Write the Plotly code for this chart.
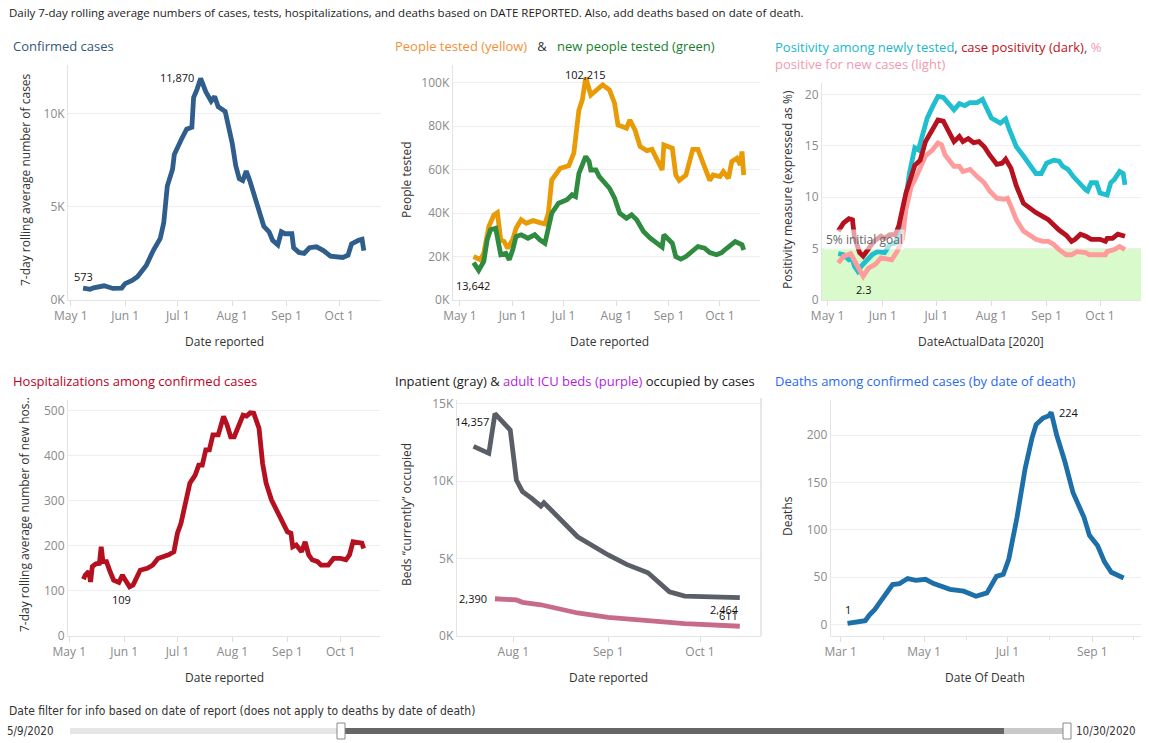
import plotly.graph_objects as go

W, H = 1149, 743


def px(x):
    return x / W


def py(y):
    return 1 - y / H


FONT = "Open Sans, Noto Sans, sans-serif"
NARROW = "Liberation Sans Narrow, DejaVu Sans Condensed, Arial Narrow, sans-serif"

# ---------------- data ----------------
CASES = [
    ("2020-05-08", 640), ("2020-05-10", 590), ("2020-05-12", 573), ("2020-05-14", 650),
    ("2020-05-16", 700), ("2020-05-20", 760), ("2020-05-25", 620), ("2020-05-30", 640),
    ("2020-06-01", 880), ("2020-06-05", 1050), ("2020-06-08", 1250), ("2020-06-13", 1850),
    ("2020-06-17", 2650), ("2020-06-21", 3300), ("2020-06-23", 4150), ("2020-06-25", 6100),
    ("2020-06-28", 7000), ("2020-06-29", 7800), ("2020-07-03", 8600), ("2020-07-06", 9150),
    ("2020-07-09", 9250), ("2020-07-10", 10850), ("2020-07-12", 11300), ("2020-07-14", 11870),
    ("2020-07-17", 11150), ("2020-07-20", 10650), ("2020-07-22", 10900), ("2020-07-24", 10350),
    ("2020-07-28", 10100), ("2020-07-30", 9300), ("2020-08-01", 8400), ("2020-08-03", 7200),
    ("2020-08-05", 6500), ("2020-08-07", 6400), ("2020-08-09", 6900), ("2020-08-11", 6400),
    ("2020-08-13", 5800), ("2020-08-15", 5300), ("2020-08-17", 4550), ("2020-08-19", 3950),
    ("2020-08-22", 3650), ("2020-08-24", 3200), ("2020-08-27", 2950), ("2020-08-29", 3650),
    ("2020-08-31", 3550), ("2020-09-04", 3550), ("2020-09-05", 2800), ("2020-09-08", 2550),
    ("2020-09-11", 2500), ("2020-09-14", 2800), ("2020-09-18", 2850), ("2020-09-22", 2650),
    ("2020-09-26", 2350), ("2020-09-29", 2320), ("2020-10-03", 2280), ("2020-10-06", 2400),
    ("2020-10-08", 3000), ("2020-10-12", 3200), ("2020-10-14", 3250), ("2020-10-15", 2650),
]

PEOPLE_TESTED = [
    ("2020-05-09", 20000), ("2020-05-13", 18500), ("2020-05-15", 21500), ("2020-05-18", 33800),
    ("2020-05-21", 39200), ("2020-05-23", 40200), ("2020-05-25", 27700), ("2020-05-27", 26900),
    ("2020-05-29", 23800), ("2020-06-01", 27700), ("2020-06-03", 33000), ("2020-06-06", 36900),
    ("2020-06-09", 35300), ("2020-06-13", 36500), ("2020-06-17", 35600), ("2020-06-20", 35000),
    ("2020-06-22", 39900), ("2020-06-24", 55200), ("2020-06-29", 60600), ("2020-07-04", 61700),
    ("2020-07-07", 67500), ("2020-07-10", 87400), ("2020-07-12", 92000), ("2020-07-14", 102215),
    ("2020-07-17", 94300), ("2020-07-21", 96600), ("2020-07-24", 99000), ("2020-07-28", 96600),
    ("2020-07-31", 90500), ("2020-08-02", 80500), ("2020-08-07", 79000), ("2020-08-09", 82800),
    ("2020-08-12", 78200), ("2020-08-15", 70600), ("2020-08-19", 68700), ("2020-08-22", 69300),
    ("2020-08-25", 64400), ("2020-08-28", 59800), ("2020-08-29", 71300), ("2020-09-03", 69800),
    ("2020-09-05", 57500), ("2020-09-07", 55000), ("2020-09-11", 57500), ("2020-09-15", 69300),
    ("2020-09-18", 69300), ("2020-09-22", 61400), ("2020-09-25", 55000), ("2020-09-27", 57500),
    ("2020-10-01", 56800), ("2020-10-03", 59100), ("2020-10-06", 56000), ("2020-10-08", 63700),
    ("2020-10-11", 65200), ("2020-10-13", 62100), ("2020-10-14", 68300), ("2020-10-15", 57500),
]

NEW_PEOPLE_TESTED = [
    ("2020-05-09", 17200), ("2020-05-12", 13642), ("2020-05-15", 17700), ("2020-05-17", 27700),
    ("2020-05-19", 32300), ("2020-05-22", 33000), ("2020-05-25", 20800), ("2020-05-28", 21500),
    ("2020-05-30", 18500), ("2020-06-01", 23000), ("2020-06-03", 29200), ("2020-06-06", 30000),
    ("2020-06-10", 28400), ("2020-06-14", 30000), ("2020-06-17", 27700), ("2020-06-20", 26100),
    ("2020-06-24", 39900), ("2020-06-28", 44500), ("2020-07-03", 46100), ("2020-07-06", 48400),
    ("2020-07-08", 47600), ("2020-07-10", 58300), ("2020-07-14", 66000), ("2020-07-16", 63700),
    ("2020-07-17", 59800), ("2020-07-20", 59800), ("2020-07-22", 56800), ("2020-07-24", 55200),
    ("2020-07-28", 51400), ("2020-07-31", 46800), ("2020-08-03", 39900), ("2020-08-07", 37600),
    ("2020-08-10", 39200), ("2020-08-13", 36900), ("2020-08-17", 31500), ("2020-08-21", 28400),
    ("2020-08-25", 26100), ("2020-08-28", 24300), ("2020-08-29", 30000), ("2020-09-01", 27700),
    ("2020-09-03", 26100), ("2020-09-05", 20000), ("2020-09-08", 18800), ("2020-09-11", 20000),
    ("2020-09-15", 23000), ("2020-09-18", 24600), ("2020-09-22", 23800), ("2020-09-25", 21800),
    ("2020-09-29", 20800), ("2020-10-02", 21800), ("2020-10-05", 23800), ("2020-10-10", 26900),
    ("2020-10-14", 25400), ("2020-10-15", 23000),
]

POS_NEWLY_TESTED = [
    ("2020-05-07", 4.5), ("2020-05-10", 4.4), ("2020-05-13", 3.9), ("2020-05-15", 4.0),
    ("2020-05-16", 3.3), ("2020-05-18", 2.8), ("2020-05-20", 3.3), ("2020-05-23", 3.9),
    ("2020-05-26", 4.4), ("2020-05-29", 4.7), ("2020-05-31", 4.7), ("2020-06-02", 4.6),
    ("2020-06-05", 5.4), ("2020-06-08", 5.55), ("2020-06-10", 6.2), ("2020-06-13", 8.8),
    ("2020-06-16", 12.35), ("2020-06-19", 14.8), ("2020-06-21", 14.6), ("2020-06-24", 16.4),
    ("2020-06-26", 17.7), ("2020-06-29", 18.8), ("2020-07-02", 19.8), ("2020-07-05", 19.7),
    ("2020-07-08", 19.1), ("2020-07-11", 18.5), ("2020-07-14", 19.1), ("2020-07-17", 18.9),
    ("2020-07-20", 19.2), ("2020-07-24", 19.2), ("2020-07-27", 19.5), ("2020-07-29", 18.8),
    ("2020-08-01", 17.7), ("2020-08-06", 17.2), ("2020-08-09", 17.6), ("2020-08-11", 16.6),
    ("2020-08-15", 14.9), ("2020-08-19", 14.0), ("2020-08-23", 13.0), ("2020-08-26", 12.3),
    ("2020-08-29", 12.3), ("2020-09-01", 13.3), ("2020-09-05", 13.6), ("2020-09-08", 13.5),
    ("2020-09-10", 13.0), ("2020-09-13", 12.7), ("2020-09-16", 12.0), ("2020-09-20", 11.2),
    ("2020-09-23", 10.7), ("2020-09-24", 10.6), ("2020-09-26", 11.4), ("2020-09-29", 11.4),
    ("2020-10-01", 10.4), ("2020-10-05", 10.2), ("2020-10-07", 11.4), ("2020-10-09", 11.7),
    ("2020-10-12", 12.5), ("2020-10-14", 12.3), ("2020-10-15", 11.2),
]

CASE_POSITIVITY = [
    ("2020-05-07", 6.7), ("2020-05-10", 7.5), ("2020-05-13", 7.9), ("2020-05-15", 7.8),
    ("2020-05-16", 6.2), ("2020-05-19", 4.6), ("2020-05-21", 4.26), ("2020-05-24", 5.06),
    ("2020-05-27", 5.7), ("2020-05-31", 6.2), ("2020-06-02", 6.0), ("2020-06-05", 6.36),
    ("2020-06-08", 6.36), ("2020-06-10", 7.2), ("2020-06-14", 10.4), ("2020-06-17", 12.0),
    ("2020-06-19", 13.1), ("2020-06-22", 13.6), ("2020-06-25", 15.4), ("2020-06-29", 16.6),
    ("2020-07-02", 17.5), ("2020-07-05", 17.4), ("2020-07-08", 16.4), ("2020-07-11", 15.4),
    ("2020-07-14", 15.9), ("2020-07-16", 15.4), ("2020-07-19", 15.7), ("2020-07-22", 15.3),
    ("2020-07-25", 15.4), ("2020-07-28", 14.9), ("2020-07-31", 14.1), ("2020-08-04", 13.2),
    ("2020-08-07", 13.3), ("2020-08-09", 13.7), ("2020-08-12", 12.8), ("2020-08-15", 11.1),
    ("2020-08-19", 9.4), ("2020-08-23", 8.8), ("2020-08-26", 8.5), ("2020-08-30", 8.1),
    ("2020-09-02", 7.8), ("2020-09-05", 7.3), ("2020-09-08", 6.8), ("2020-09-12", 6.3),
    ("2020-09-15", 5.7), ("2020-09-17", 5.9), ("2020-09-20", 6.4), ("2020-09-23", 6.2),
    ("2020-09-26", 5.9), ("2020-10-01", 5.9), ("2020-10-04", 5.7), ("2020-10-05", 6.0),
    ("2020-10-08", 6.0), ("2020-10-11", 6.4), ("2020-10-15", 6.2),
]

POS_NEW_CASES = [
    ("2020-05-07", 3.6), ("2020-05-10", 4.26), ("2020-05-14", 4.5), ("2020-05-16", 3.9),
    ("2020-05-19", 2.96), ("2020-05-21", 2.3), ("2020-05-24", 3.1), ("2020-05-28", 3.5),
    ("2020-05-31", 4.1), ("2020-06-04", 4.0), ("2020-06-06", 3.9), ("2020-06-09", 4.7),
    ("2020-06-12", 5.9), ("2020-06-14", 8.8), ("2020-06-17", 11.05), ("2020-06-19", 11.7),
    ("2020-06-22", 13.0), ("2020-06-25", 14.0), ("2020-06-29", 14.6), ("2020-07-02", 15.26),
    ("2020-07-04", 15.1), ("2020-07-06", 14.1), ("2020-07-11", 13.0), ("2020-07-14", 13.0),
    ("2020-07-16", 12.5), ("2020-07-20", 12.7), ("2020-07-24", 12.0), ("2020-07-28", 11.4),
    ("2020-07-31", 10.6), ("2020-08-04", 9.9), ("2020-08-08", 9.8), ("2020-08-10", 9.9),
    ("2020-08-12", 9.1), ("2020-08-15", 7.8), ("2020-08-19", 6.7), ("2020-08-23", 6.2),
    ("2020-08-26", 5.9), ("2020-08-30", 5.7), ("2020-09-02", 5.7), ("2020-09-05", 5.4),
    ("2020-09-08", 4.9), ("2020-09-12", 4.4), ("2020-09-15", 4.4), ("2020-09-18", 4.7),
    ("2020-09-23", 4.6), ("2020-09-25", 4.4), ("2020-10-01", 4.4), ("2020-10-04", 4.4),
    ("2020-10-05", 4.7), ("2020-10-09", 4.9), ("2020-10-12", 5.2), ("2020-10-15", 4.9),
]
GOAL_PCT = 5

HOSPITALIZATIONS = [
    ("2020-05-09", 126), ("2020-05-10", 135), ("2020-05-12", 143), ("2020-05-13", 120),
    ("2020-05-14", 154), ("2020-05-16", 160), ("2020-05-18", 161), ("2020-05-19", 198),
    ("2020-05-20", 165), ("2020-05-22", 165), ("2020-05-24", 143), ("2020-05-26", 124),
    ("2020-05-29", 119), ("2020-05-31", 135), ("2020-06-01", 128), ("2020-06-04", 109),
    ("2020-06-06", 113), ("2020-06-08", 132), ("2020-06-10", 146), ("2020-06-14", 150),
    ("2020-06-17", 157), ("2020-06-20", 172), ("2020-06-23", 176), ("2020-06-26", 180),
    ("2020-06-29", 187), ("2020-07-01", 228), ("2020-07-03", 250), ("2020-07-05", 287),
    ("2020-07-08", 339), ("2020-07-11", 357), ("2020-07-13", 379), ("2020-07-15", 379),
    ("2020-07-17", 413), ("2020-07-19", 413), ("2020-07-21", 446), ("2020-07-24", 446),
    ("2020-07-27", 487), ("2020-07-29", 468), ("2020-07-31", 442), ("2020-08-02", 442),
    ("2020-08-04", 461), ("2020-08-07", 490), ("2020-08-09", 488), ("2020-08-11", 495),
    ("2020-08-13", 494), ("2020-08-16", 461), ("2020-08-18", 383), ("2020-08-20", 339),
    ("2020-08-23", 302), ("2020-08-26", 279), ("2020-08-30", 246), ("2020-09-01", 231),
    ("2020-09-03", 228), ("2020-09-04", 198), ("2020-09-06", 202), ("2020-09-09", 187),
    ("2020-09-11", 209), ("2020-09-13", 180), ("2020-09-15", 169), ("2020-09-18", 165),
    ("2020-09-20", 157), ("2020-09-24", 157), ("2020-09-27", 172), ("2020-10-01", 172),
    ("2020-10-04", 169), ("2020-10-06", 180), ("2020-10-08", 209), ("2020-10-10", 207),
    ("2020-10-13", 206), ("2020-10-14", 194),
]

INPATIENT_BEDS = [
    ("2020-07-19", 12240), ("2020-07-24", 11790), ("2020-07-26", 14357), ("2020-07-31", 13300),
    ("2020-08-02", 10060), ("2020-08-04", 9310), ("2020-08-07", 8880), ("2020-08-10", 8380),
    ("2020-08-11", 8600), ("2020-08-22", 6400), ("2020-09-01", 5220), ("2020-09-07", 4610),
    ("2020-09-14", 4070), ("2020-09-21", 2840), ("2020-09-26", 2560), ("2020-10-07", 2500),
    ("2020-10-14", 2464),
]

ICU_BEDS = [
    ("2020-07-26", 2390), ("2020-08-02", 2310), ("2020-08-04", 2160), ("2020-08-10", 2000),
    ("2020-08-22", 1470), ("2020-09-01", 1180), ("2020-09-13", 990), ("2020-09-26", 780),
    ("2020-10-14", 611),
]

DEATHS = [
    ("2020-03-06", 1), ("2020-03-10", 2), ("2020-03-15", 2.4), ("2020-03-19", 3.8),
    ("2020-03-22", 9.8), ("2020-03-26", 15.7), ("2020-03-29", 22), ("2020-04-02", 29),
    ("2020-04-05", 36), ("2020-04-08", 42), ("2020-04-13", 43), ("2020-04-17", 46.5),
    ("2020-04-19", 48.3), ("2020-04-25", 46.5), ("2020-05-02", 47.6), ("2020-05-08", 43),
    ("2020-05-14", 39.5), ("2020-05-20", 37), ("2020-05-30", 35), ("2020-06-08", 29.7),
    ("2020-06-16", 33.2), ("2020-06-23", 50.7), ("2020-06-28", 52.8), ("2020-07-02", 69),
    ("2020-07-08", 113), ("2020-07-14", 165), ("2020-07-19", 197), ("2020-07-22", 211),
    ("2020-07-27", 218), ("2020-07-31", 220), ("2020-08-02", 224), ("2020-08-06", 200),
    ("2020-08-12", 172), ("2020-08-18", 139), ("2020-08-26", 113), ("2020-08-30", 94),
    ("2020-09-05", 83), ("2020-09-10", 66), ("2020-09-15", 55), ("2020-09-24", 49),
]

K_TICKS_CASES = [0, 5000, 10000]
K_TICKS_TESTS = [0, 20000, 40000, 60000, 80000, 100000]
PCT_TICKS = [0, 5, 10, 15, 20]
HOSP_TICKS = [0, 100, 200, 300, 400, 500]
BED_TICKS = [0, 5000, 10000, 15000]
DEATH_TICKS = [0, 50, 100, 150, 200]

FILTER_START = "5/9/2020"
FILTER_END = "10/30/2020"

# ---------------- colours ----------------
C_CASES = "#2f5d8c"
C_YELLOW = "#e89b06"
C_GREEN = "#2e8b3f"
C_CYAN = "#1fbfcf"
C_DARKRED = "#b5111e"
C_PINK = "#ff9b9b"
C_HOSP = "#b5101f"
C_GRAY = "#5a5e66"
C_PURPLE = "#c86a8b"
C_DEATHS = "#1c6fa8"

TICK_FONT = dict(family=FONT, size=12, color="#8a8a8a")
AX_LINE = "#e4e4e4"
GRID = "#eeeeee"

fig = go.Figure()


def add_series(pairs, color, n, width=4.8):
    xs = [d for d, _ in pairs]
    ys = [v for _, v in pairs]
    fig.add_trace(go.Scatter(
        x=xs, y=ys, mode="lines",
        line=dict(color=color, width=width),
        xaxis="x" if n == 1 else f"x{n}", yaxis="y" if n == 1 else f"y{n}",
        hoverinfo="skip", showlegend=False,
    ))


add_series(CASES, C_CASES, 1)
add_series(PEOPLE_TESTED, C_YELLOW, 2)
add_series(NEW_PEOPLE_TESTED, C_GREEN, 2)
add_series(POS_NEWLY_TESTED, C_CYAN, 3)
add_series(POS_NEW_CASES, C_PINK, 3)
add_series(CASE_POSITIVITY, C_DARKRED, 3)
add_series(HOSPITALIZATIONS, C_HOSP, 4)
add_series(INPATIENT_BEDS, C_GRAY, 5)
add_series(ICU_BEDS, C_PURPLE, 5)
add_series(DEATHS, C_DEATHS, 6)


def xaxis(xd, rng, anchor, dtick="M1", tick0="2020-05-01"):
    return dict(
        domain=[px(xd[0]), px(xd[1])], range=rng, type="date", anchor=anchor,
        showgrid=False, showline=True, linecolor=AX_LINE, linewidth=1,
        ticks="outside", ticklen=5, tickcolor="#dddddd",
        tickformat="%b %-d", dtick=dtick, tick0=tick0,
        tickfont=TICK_FONT, zeroline=False, fixedrange=True, automargin=False,
    )


def yaxis(yd, rng, anchor, vals, text=None):
    d = dict(
        domain=[py(yd[1]), py(yd[0])], range=rng, anchor=anchor,
        showgrid=True, gridcolor=GRID, gridwidth=1,
        showline=True, linecolor=AX_LINE, linewidth=1,
        ticks="", tickvals=vals, tickfont=TICK_FONT,
        zeroline=False, fixedrange=True, automargin=False,
    )
    if text is not None:
        d["ticktext"] = text
    return d


def ktext(vals):
    return [f"{int(v / 1000)}K" for v in vals]


layout = dict(
    width=W, height=H, autosize=False,
    margin=dict(l=0, r=0, t=0, b=0, pad=0, autoexpand=False),
    paper_bgcolor="white", plot_bgcolor="white",
    font=dict(family=FONT, color="#333333"),
    showlegend=False,
)
layout["xaxis"] = xaxis((68, 381), ["2020-04-29 10:00", "2020-10-24 19:00"], "y")
layout["yaxis"] = yaxis((65, 300), [0, 12590], "x", K_TICKS_CASES, ktext(K_TICKS_CASES))
layout["xaxis2"] = xaxis((452.7, 760), ["2020-04-26 17:00", "2020-10-24 14:00"], "y2")
layout["yaxis2"] = yaxis((65, 300), [0, 108100], "x2", K_TICKS_TESTS, ktext(K_TICKS_TESTS))
layout["xaxis3"] = xaxis((822, 1141), ["2020-04-27 21:00", "2020-10-24 00:00"], "y3")
layout["yaxis3"] = yaxis((83.3, 300), [0, 21.07], "x3", PCT_TICKS)
layout["xaxis4"] = xaxis((68, 380), ["2020-04-30 07:00", "2020-10-23 05:00"], "y4")
layout["yaxis4"] = yaxis((400, 636), [0, 523.5], "x4", HOSP_TICKS)
layout["xaxis5"] = xaxis((456.7, 761), ["2020-07-13 12:00", "2020-10-20 22:00"], "y5",
                         tick0="2020-08-01")
layout["yaxis5"] = yaxis((400, 635.7), [0, 15240], "x5", BED_TICKS, ktext(BED_TICKS))
layout["xaxis6"] = xaxis((830.7, 1141), ["2020-02-22 17:00", "2020-10-06 17:00"], "y6",
                         dtick="M2", tick0="2020-03-01")
layout["xaxis6"]["minor"] = dict(ticks="outside", ticklen=3, dtick="M1", tickcolor="#e2e2e2")
layout["yaxis6"] = yaxis((400, 635.7), [-12, 237], "x6", DEATH_TICKS)

fig.update_layout(**layout)

ann = []
shapes = []


def text(x, y, s, size=13, color="#333333", anchor="left", family=FONT, angle=0, **kw):
    ann.append(dict(
        xref="paper", yref="paper", x=px(x), y=py(y), text=s, showarrow=False,
        xanchor=anchor, yanchor="middle", textangle=angle,
        font=dict(family=family, size=size, color=color), **kw,
    ))


def span(s, c):
    return f'<span style="color:{c}">{s}</span>'


# main title
text(7, 12, "Daily 7-day rolling average numbers of cases, tests, hospitalizations, and deaths "
     "based on DATE REPORTED. Also, add deaths based on date of death.", size=11.5, color="#1a1a1a")

# panel titles
text(11, 46, "Confirmed cases", size=13, color="#34577a")
text(393, 46, span("People tested (yellow)", "#f0913a") + "&nbsp;&nbsp;&nbsp;" + span("&amp;", "#333333")
     + "&nbsp;&nbsp;&nbsp;" + span("new people tested (green)", "#17802f"), size=13)
text(773, 55, span("Positivity among newly tested", "#1ab7c7") + span(",", "#555555") + " "
     + span("case positivity (dark)", "#c0111a") + span(",", "#555555") + " " + span("%", "#f29ab0")
     + "<br>" + span("positive for new cases (light)", "#f29ab0"), size=13, align="left")
text(11, 381, "Hospitalizations among confirmed cases", size=13, color="#c0001e")
text(393, 381, "Inpatient (gray) &amp; " + span("adult ICU beds (purple)", "#b41de0")
     + " occupied by cases", size=13, color="#1a1a1a")
text(773, 381, "Deaths among confirmed cases (by date of death)", size=13, color="#2a68f0")

# axis titles
AX_T = dict(size=12, color="#333333", anchor="center")
text(25, 180, "7-day rolling average number of cases", angle=-90, **AX_T)
text(224, 342, "Date reported", **AX_T)
text(406, 180, "People tested", angle=-90, **AX_T)
text(609, 342, "Date reported", **AX_T)
text(787, 190, "Positivity measure (expressed as %)", angle=-90, **AX_T)
text(981, 342, "DateActualData [2020]", **AX_T)
text(24, 515, "7-day rolling average number of new hos..", angle=-90, **AX_T)
text(224, 677, "Date reported", **AX_T)
text(406, 515, "Beds \u201ccurrently\u201d occupied", angle=-90, **AX_T)
text(608, 677, "Date reported", **AX_T)
text(787, 516, "Deaths", angle=-90, **AX_T)
text(985, 677, "Date Of Death", **AX_T)

# goal band and label
shapes.append(dict(type="rect", xref="x3 domain", yref="y3", x0=0, x1=1, y0=0, y1=GOAL_PCT,
                   fillcolor="#d9fbcc", line=dict(width=0), layer="below"))
ann.append(dict(xref="x3 domain", yref="y3", x=0.005, y=GOAL_PCT, yshift=9, text="5% initial goal",
                showarrow=False, xanchor="left", yanchor="middle",
                font=dict(family=FONT, size=12, color="#666666"),
                bgcolor="rgba(255,255,255,0.6)", borderpad=1))

# pane border of bed panel
shapes.append(dict(type="line", xref="paper", yref="paper", x0=px(761), x1=px(761),
                   y0=py(636), y1=py(398), line=dict(color="#d0d0d0", width=1)))


def label(pairs, which, n, xs=0, ys=0, anchor="center", fmt="{:,.0f}"):
    vals = [v for _, v in pairs]
    i = vals.index(max(vals)) if which == "max" else (
        vals.index(min(vals)) if which == "min" else (0 if which == "first" else len(vals) - 1))
    ann.append(dict(xref="x" if n == 1 else f"x{n}", yref="y" if n == 1 else f"y{n}",
                    x=pairs[i][0], y=pairs[i][1], text=fmt.format(pairs[i][1]),
                    showarrow=False, xanchor=anchor, yanchor="middle",
                    xshift=xs, yshift=ys, font=dict(family=FONT, size=11, color="#111111")))


label(CASES, "max", 1, xs=-5, ys=1, anchor="right")
label(CASES, "min", 1, xs=-7, ys=13)
label(PEOPLE_TESTED, "max", 2, xs=0, ys=3)
label(NEW_PEOPLE_TESTED, "min", 2, xs=-6, ys=-15)
label(POS_NEW_CASES, "min", 3, xs=0, ys=-13, fmt="{:.1f}")
label(HOSPITALIZATIONS, "min", 4, xs=-8, ys=-13)
label(INPATIENT_BEDS, "max", 5, xs=-4, ys=-8, anchor="right")
label(ICU_BEDS, "first", 5, xs=-6, ys=0, anchor="right")
label(INPATIENT_BEDS, "last", 5, xs=-15, ys=-12)
label(ICU_BEDS, "last", 5, xs=-11, ys=11)
label(DEATHS, "min", 6, xs=0, ys=14)
label(DEATHS, "max", 6, xs=6, ys=0, anchor="left")

# date filter slider
text(7, 711, "Date filter for info based on date of report (does not apply to deaths by date of death)",
     size=12, color="#333333", family=NARROW)
text(5, 731, FILTER_START, size=11.5, color="#333333", family=NARROW)
text(1074, 731, FILTER_END, size=11.5, color="#333333", family=NARROW)


def prect(x0, x1, y0, y1, fill, line=None, lw=0):
    shapes.append(dict(type="rect", xref="paper", yref="paper", x0=px(x0), x1=px(x1),
                       y0=py(y1), y1=py(y0), fillcolor=fill,
                       line=dict(width=lw, color=line or fill)))


prect(70, 342, 728, 734, "#e6e6e6")
prect(342, 1004, 728, 734, "#666666")
prect(1004, 1066, 728, 734, "#c9c9c9")
prect(337, 345, 723, 739, "white", "#8a8a8a", 1)
prect(1063, 1071, 723, 739, "white", "#8a8a8a", 1)

fig.update_layout(annotations=ann, shapes=shapes)

PAGE_FIX = ("document.documentElement.style.margin='0';document.body.style.margin='0';"
            "document.body.style.padding='0';document.documentElement.style.overflow='hidden';")
fig.write_html("out.html", config={"displayModeBar": False}, post_script=PAGE_FIX)
